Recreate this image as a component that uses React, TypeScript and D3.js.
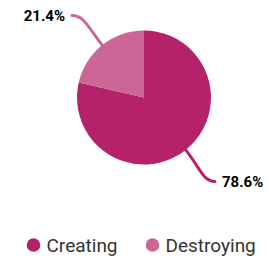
import React from "react";
import * as d3 from "d3";

const categories = ["Creating", "Destroying"];
const values = [78.6, 21.4];
const colors = ["#B5226A", "#CC6697"];
const labels = ["78.6%", "21.4%"];

export default function App() {
  const width = 268;
  const height = 260;
  const cx = 144;
  const cy = 97.5;
  const r = 67;

  const pie = d3.pie<number>().sort(null).value((d) => d);
  const arcs = pie(values);
  const arcGen = d3.arc<d3.PieArcDatum<number>>().innerRadius(0).outerRadius(r);

  return (
    <svg
      width={width}
      height={height}
      style={{ position: "absolute", left: 0, top: 0 }}
      fontFamily="Roboto"
    >
      <g transform={`translate(${cx},${cy})`}>
        {arcs.map((a, i) => (
          <path key={i} d={arcGen(a) || ""} fill={colors[i]} />
        ))}
        {arcs.map((a, i) => {
          const mid = (a.startAngle + a.endAngle) / 2;
          const sx = Math.sin(mid) * (r - 1);
          const sy = -Math.cos(mid) * (r - 1);
          const c1x = Math.sin(mid) * (r + 24);
          const c1y = -Math.cos(mid) * (r + 24);
          const right = Math.sin(mid) > 0;
          const ex = right ? 71 : -72;
          const ey = right ? 84 : -82;
          const c2x = ex + (right ? -12 : 12);
          const c2y = ey;
          const path = `M${sx},${sy} C${c1x},${c1y} ${c2x},${c2y} ${ex},${ey}`;
          return (
            <g key={"l" + i}>
              <path d={path} fill="none" stroke={colors[i]} strokeWidth={3} strokeLinecap="round" />
              <text
                x={right ? ex + 7 : ex - 7}
                y={ey + 5}
                textAnchor={right ? "start" : "end"}
                fontWeight="bold"
                fontSize={15}
                fill="#000"
              >
                {labels[i]}
              </text>
            </g>
          );
        })}
      </g>
      {categories.map((c, i) => {
        const lx = i === 0 ? 33.5 : 152.5;
        return (
          <g key={c}>
            <circle cx={lx} cy={245} r={6.8} fill={colors[i]} />
            <text x={lx + 13} y={252} fontSize={19} fill="#333">
              {c}
            </text>
          </g>
        );
      })}
    </svg>
  );
}
